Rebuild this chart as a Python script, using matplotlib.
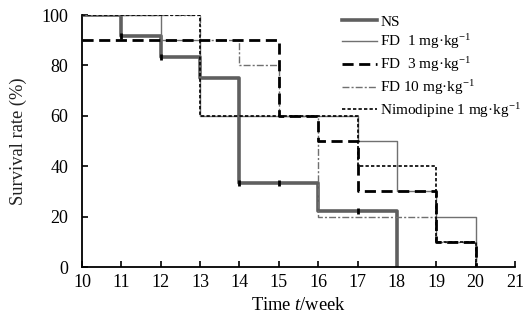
import matplotlib
matplotlib.use("Agg")
import matplotlib.pyplot as plt

plt.rcParams['font.family'] = ['Liberation Serif', 'DejaVu Serif']
plt.rcParams['mathtext.fontset'] = 'custom'
plt.rcParams['mathtext.rm'] = 'Liberation Serif'
plt.rcParams['mathtext.it'] = 'Liberation Serif:italic'

weeks = [10, 11, 12, 13, 14, 15, 16, 17, 18, 19, 20]
ns = [100, 91.7, 83.3, 75, 33.3, 33.3, 22.2, 22.2, 0]
fd1 = [100, 100, 90, 60, 60, 60, 60, 50, 30, 20, 0]
fd3 = [90, 90, 90, 90, 90, 60, 50, 30, 30, 10, 0]
fd10 = [100, 100, 100, 90, 80, 60, 20, 20, 20, 10, 0]
nimo = [100, 100, 100, 60, 60, 60, 60, 40, 40, 10, 0]

ns_censor_t = [11, 12, 14, 15, 17]
ns_censor_v = [91.7, 83.3, 33.3, 33.3, 22.2]

labels = ['NS', 'FD  1 mg\u00b7kg$^{-1}$', 'FD  3 mg\u00b7kg$^{-1}$',
          'FD 10 mg\u00b7kg$^{-1}$', 'Nimodipine 1 mg\u00b7kg$^{-1}$']

fig = plt.figure(figsize=(5.26, 3.21), dpi=100)
ax = fig.add_axes([0.156, 0.168, 0.823, 0.785])

ax.step(weeks[:len(ns)], ns, where='post', color='#5f5f5f', lw=2.6, label=labels[0], zorder=2)
ax.step(weeks, fd1, where='post', color='#707070', lw=1.0, label=labels[1], zorder=3)
ax.step(weeks, fd3, where='post', color='black', lw=2.0, dashes=(4, 2), label=labels[2], zorder=5)
ax.step(weeks, fd10, where='post', color='#707070', lw=1.0, dashes=(5, 1.5, 1.5, 1.5), label=labels[3], zorder=3)
ax.step(weeks, nimo, where='post', color='black', lw=1.2, dashes=(2, 1.3), label=labels[4], zorder=4)
ax.plot(ns_censor_t, ns_censor_v, ls='none', marker='|', color='black', ms=5, mew=2, zorder=6)

ax.set_xlim(10, 21)
ax.set_ylim(0, 100)
ax.set_xticks(range(10, 22))
ax.set_yticks(range(0, 101, 20))
ax.tick_params(direction='in', length=4, width=1.2, labelsize=13, colors='black')
ax.tick_params(axis='x', pad=5)
ax.tick_params(axis='y', pad=10)
for s in ['top', 'right']:
    ax.spines[s].set_visible(False)
for s in ['left', 'bottom']:
    ax.spines[s].set_linewidth(1.3)

ax.set_xlabel('Time $t$/week', fontsize=13.3, labelpad=4)
ax.set_ylabel('Survival rate (%)', fontsize=13.3, labelpad=10, color='#222222')

leg = ax.legend(loc='upper left', bbox_to_anchor=(342 / 526, 1 - 15 / 321),
                bbox_transform=fig.transFigure, frameon=False, fontsize=11,
                handlelength=2.3, handletextpad=0.2, labelspacing=0.25,
                borderpad=0, borderaxespad=0)

fig.savefig('out.png', dpi=100)
